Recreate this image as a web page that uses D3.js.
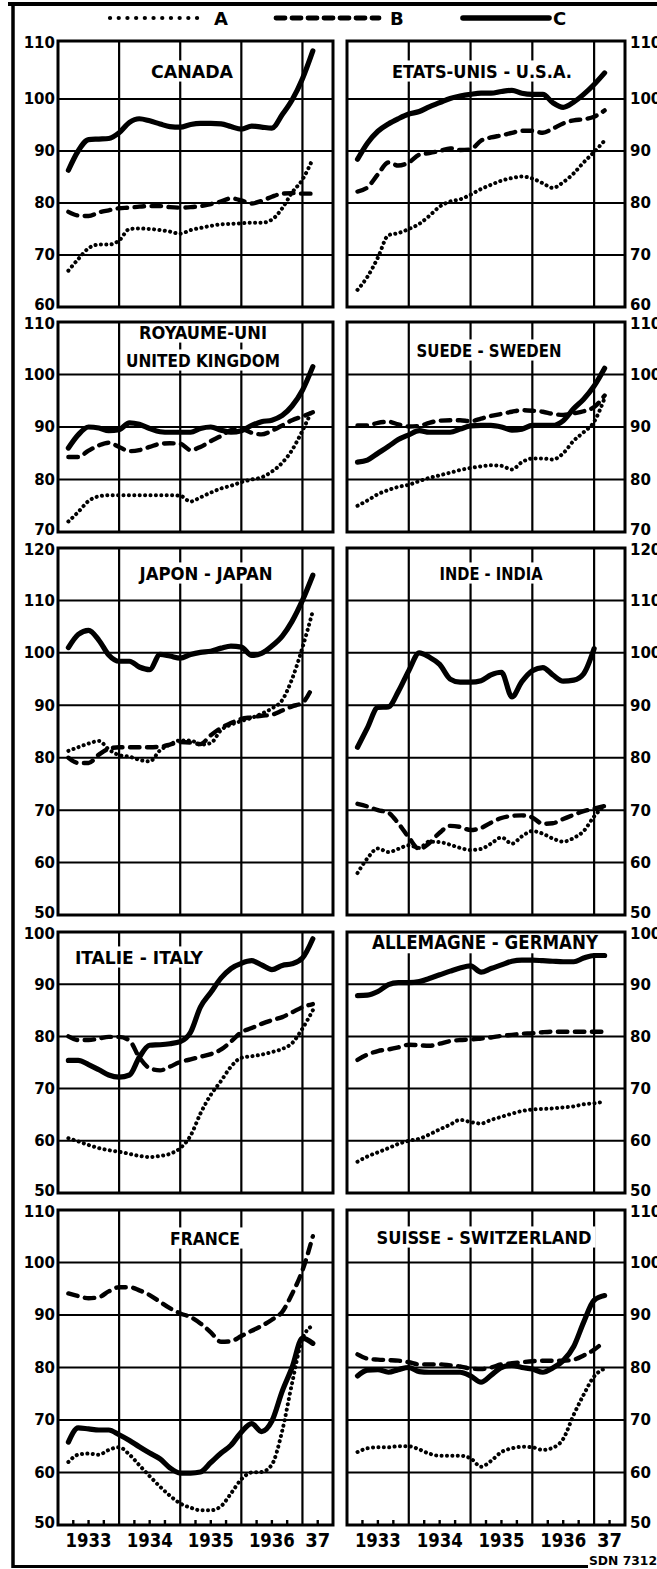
<!DOCTYPE html>
<html>
<head>
<meta charset="utf-8">
<script src="https://cdn.jsdelivr.net/npm/d3@7/dist/d3.min.js"></script>
<style>
html,body{margin:0;padding:0;background:#fff;}
svg{display:block;}
</style>
</head>
<body>
<script>
// ================= DATA =================
const periods = [1933.17,1933.33,1933.5,1933.67,1933.83,1934.0,1934.17,1934.33,1934.5,1934.67,1934.83,1935.0,1935.17,1935.33,1935.5,1935.67,1935.83,1936.0,1936.17,1936.33,1936.5,1936.67,1936.83,1937.0,1937.17];
const legendKeys = ["A","B","C"];
const xTickLabels = ["1933","1934","1935","1936","37"];
const xLabelAt = [1933.5,1934.5,1935.5,1936.5,1937.25];
const yearLines = [1934,1935,1936,1937];
const quarterTicks = [1933.25,1933.5,1933.75,1934.25,1934.5,1934.75,1935.25,1935.5,1935.75,1936.25,1936.5,1936.75,1937.25];
const ticksRow1 = [60,70,80,90,100,110];
const ticksRow2 = [70,80,90,100,110];
const ticksRow3 = [50,60,70,80,90,100,110,120];
const ticksRow4 = [50,60,70,80,90,100];
const ticksRow5 = [50,60,70,80,90,100,110];
const titles = [["CANADA"],["ETATS-UNIS - U.S.A."],["ROYAUME-UNI","UNITED KINGDOM"],["SUEDE - SWEDEN"],["JAPON - JAPAN"],["INDE - INDIA"],["ITALIE - ITALY"],["ALLEMAGNE - GERMANY"],["FRANCE"],["SUISSE - SWITZERLAND"]];
const sourceNote = "SDN 7312";

const canadaA = [67.0,69.2,71.3,72.0,72.0,72.8,75.0,75.1,75.0,74.8,74.5,74.1,74.8,75.2,75.6,75.9,76.0,76.1,76.2,76.2,76.8,79.0,82.0,84.5,88.5];
const canadaB = [78.3,77.6,77.5,78.2,78.6,79.0,79.1,79.3,79.4,79.4,79.2,79.1,79.2,79.4,79.8,80.3,80.9,80.5,79.9,80.4,81.2,81.8,81.9,81.8,81.8];
const canadaC = [86.3,90.0,92.2,92.3,92.4,93.5,95.5,96.2,95.8,95.2,94.7,94.6,95.1,95.3,95.3,95.2,94.7,94.2,94.8,94.6,94.4,97.0,99.8,103.5,108.3];

const usaA = [63.3,65.8,69.5,73.8,74.2,75.0,76.0,77.5,79.3,80.3,80.7,81.6,82.7,83.5,84.3,84.8,85.1,84.7,83.8,82.9,84.0,85.7,87.8,89.8,92.0];
const usaB = [82.2,83.0,85.5,87.8,87.2,87.8,89.3,89.6,90.0,90.5,90.2,90.3,92.0,92.6,93.0,93.5,93.9,93.9,93.5,94.3,95.3,95.9,96.1,96.6,97.8];
const usaC = [88.4,91.5,93.8,95.2,96.2,97.1,97.6,98.5,99.3,100.1,100.5,100.8,101.0,101.0,101.3,101.5,101.0,100.8,100.8,99.3,98.4,99.4,100.8,102.5,104.5];

const ukA = [72.0,73.8,75.9,76.8,77.0,77.0,77.0,77.0,77.0,77.0,77.0,76.9,75.8,76.6,77.5,78.3,78.8,79.5,80.0,80.4,81.5,83.2,85.6,89.3,93.5];
const ukB = [84.3,84.3,85.5,86.5,87.0,86.2,85.4,85.6,86.2,86.8,86.9,86.8,85.6,86.2,87.3,88.3,89.4,89.6,88.9,88.6,89.3,90.3,91.3,92.0,92.8];
const ukC = [86.0,88.5,90.0,89.8,89.3,89.5,90.8,90.5,89.7,89.1,89.0,89.0,89.0,89.7,90.0,89.4,89.0,89.3,90.3,91.0,91.3,92.2,94.0,97.0,101.5];

const swedenA = [75.0,76.0,77.2,78.0,78.6,79.0,79.7,80.3,80.8,81.3,81.8,82.2,82.5,82.7,82.6,81.9,83.3,84.0,84.0,83.8,85.0,87.4,89.0,91.0,95.5];
const swedenB = [90.3,90.3,90.8,91.0,90.5,90.1,90.2,90.8,91.2,91.3,91.3,91.1,91.6,92.1,92.5,92.9,93.2,93.1,92.9,92.5,92.3,92.6,93.0,93.8,96.0];
const swedenC = [83.3,83.7,85.0,86.3,87.6,88.5,89.3,89.0,89.0,89.0,89.6,90.2,90.3,90.3,90.0,89.4,89.6,90.3,90.3,90.3,91.2,93.5,95.3,97.8,101.2];

const japanA = [81.3,82.0,82.7,83.2,81.6,80.5,80.2,79.6,79.3,81.4,82.5,83.3,83.3,82.5,82.8,85.3,86.3,87.0,87.6,88.4,89.4,91.0,95.0,101.0,108.0];
const japanB = [80.0,79.0,79.0,80.6,81.7,82.0,82.0,82.0,82.0,82.1,82.5,83.0,82.9,82.6,84.3,85.7,86.6,87.4,87.7,88.0,88.2,89.0,89.8,90.5,93.6];
const japanC = [101.0,103.5,104.3,102.4,99.6,98.4,98.4,97.3,96.8,99.7,99.4,99.0,99.7,100.1,100.3,100.9,101.3,101.1,99.5,99.9,101.3,103.2,106.0,110.0,114.8];

const indiaA = [58.0,60.8,62.7,62.0,62.6,63.3,62.8,64.0,63.9,63.4,62.8,62.4,62.6,63.6,64.8,63.6,65.0,66.0,65.5,64.6,64.0,64.7,66.0,68.8,70.9];
const indiaB = [71.2,70.7,70.0,69.5,67.5,64.8,62.6,63.7,65.7,67.0,66.8,66.2,66.6,67.6,68.5,68.9,69.0,68.6,67.4,67.5,68.3,69.1,69.8,70.3,70.8];
const indiaC = [82.0,85.7,89.6,89.7,92.6,96.6,100.0,99.2,97.8,95.0,94.4,94.4,94.7,95.8,96.3,91.6,94.5,96.6,97.2,95.8,94.6,94.8,96.0,100.8,null];

const italyA = [60.5,59.9,59.2,58.6,58.2,57.9,57.5,57.1,56.9,57.1,57.5,58.6,61.0,65.2,68.8,71.5,74.2,75.9,76.2,76.5,77.0,77.6,78.7,81.5,85.0];
const italyB = [80.0,79.3,79.3,79.6,79.9,79.9,79.2,76.0,73.9,73.5,74.2,75.1,75.6,76.1,76.6,77.5,79.0,80.8,81.6,82.4,83.1,83.7,84.6,85.6,86.2];
const italyC = [75.4,75.4,74.6,73.6,72.6,72.2,72.6,76.0,78.3,78.4,78.6,79.0,80.8,85.6,88.4,91.2,93.0,94.0,94.5,93.7,92.8,93.6,93.9,95.0,98.7];

const germanyA = [56.0,57.0,57.8,58.6,59.4,60.0,60.4,61.2,62.2,63.1,64.0,63.6,63.3,64.0,64.6,65.2,65.7,66.0,66.1,66.2,66.4,66.6,67.0,67.2,67.5];
const germanyB = [75.5,76.5,77.2,77.5,77.9,78.4,78.3,78.2,78.6,79.1,79.3,79.4,79.6,79.8,80.1,80.3,80.5,80.6,80.8,80.9,80.9,80.9,80.9,80.9,80.9];
const germanyC = [87.8,87.9,88.6,89.9,90.3,90.3,90.5,91.1,91.8,92.5,93.1,93.5,92.3,93.0,93.7,94.4,94.6,94.6,94.5,94.4,94.3,94.3,95.0,95.5,95.5];

const franceA = [62.0,63.4,63.6,63.4,64.3,64.8,63.4,61.4,59.3,57.3,55.6,54.1,53.3,52.8,52.8,53.6,56.0,58.7,60.0,60.1,61.5,68.0,77.0,85.5,88.0];
const franceB = [94.1,93.6,93.2,93.4,94.5,95.3,95.3,94.7,93.8,92.5,91.3,90.3,89.6,88.4,86.7,84.9,85.0,86.0,87.0,87.9,89.1,90.6,94.0,98.5,105.0];
const franceC = [65.8,68.5,68.3,68.1,68.1,67.2,66.1,64.9,63.7,62.6,60.9,59.9,59.9,60.1,61.9,63.7,65.2,67.7,69.3,67.8,69.8,75.5,80.0,85.6,84.6];

const swissA = [63.9,64.6,64.8,64.8,65.0,65.0,64.4,63.6,63.2,63.2,63.2,62.7,61.1,62.2,63.9,64.6,64.9,64.8,64.3,64.7,66.4,71.0,74.8,78.3,79.8];
const swissB = [82.5,81.7,81.5,81.4,81.3,81.0,80.6,80.6,80.6,80.4,80.2,79.8,79.7,80.0,80.6,80.8,81.0,81.2,81.3,81.3,81.3,81.5,82.3,83.4,85.0];
const swissC = [78.4,79.5,79.6,79.1,79.6,80.0,79.2,79.1,79.1,79.1,79.1,78.4,77.2,78.5,80.0,80.4,80.0,79.7,79.1,79.9,81.3,84.0,88.6,92.8,93.7];

// ================= LAYOUT =================
const W = 657, H = 1569, ink = "#000";
const rowTicks = [ticksRow1, ticksRow2, ticksRow3, ticksRow4, ticksRow5];
// pixel stops for each row's value scale (value -> y), as printed
const rowStops = [
  {d:[60,100,110], r:[307,99,41]},
  {d:[70,110], r:[532,322]},
  {d:[50,120], r:[915,548]},
  {d:[50,100], r:[1193,932]},
  {d:[50,110], r:[1525,1210]}
];
const colBox = [[58,333],[347,625]];
const seriesSets = [
  [canadaA,canadaB,canadaC],[usaA,usaB,usaC],
  [ukA,ukB,ukC],[swedenA,swedenB,swedenC],
  [japanA,japanB,japanC],[indiaA,indiaB,indiaC],
  [italyA,italyB,italyC],[germanyA,germanyB,germanyC],
  [franceA,franceB,franceC],[swissA,swissB,swissC]
];
const titleLayout = [
  {cx:192, cy:[71], w:[82], fs:18},
  {cx:482, cy:[71], w:[180], fs:18},
  {cx:203, cy:[332,360], w:[128,154], fs:18},
  {cx:489, cy:[350], w:[145], fs:18},
  {cx:206, cy:[573], w:[133], fs:18},
  {cx:491, cy:[573], w:[103], fs:18},
  {cx:139, cy:[957], w:[128], fs:18},
  {cx:485, cy:[942], w:[226], fs:20},
  {cx:205, cy:[1238], w:[70], fs:18},
  {cx:484, cy:[1237], w:[215], fs:18}
];
const styles = {
  A: {w:4.0, dash:"0.1 5.3", cap:"round"},
  B: {w:4.4, dash:"9.5 7.5", cap:"round"},
  C: {w:5.2, dash:null, cap:"round"}
};

const svg = d3.select("body").append("svg").attr("width",W).attr("height",H);
svg.append("rect").attr("width",W).attr("height",H).attr("fill","#fff");

const numFont = "'DejaVu Sans', 'Liberation Sans', sans-serif";
const titleFont = "'DejaVu Sans Condensed', 'Liberation Sans Narrow', 'DejaVu Sans', sans-serif";

// outer frame
svg.append("line").attr("x1",8).attr("x2",W).attr("y1",4).attr("y2",4).attr("stroke",ink).attr("stroke-width",4);
svg.append("line").attr("x1",13).attr("x2",13).attr("y1",2).attr("y2",1568).attr("stroke",ink).attr("stroke-width",3.5);
svg.append("line").attr("x1",12).attr("x2",588).attr("y1",1566.5).attr("y2",1566.5).attr("stroke",ink).attr("stroke-width",3);
svg.append("text").attr("x",589).attr("y",1565).attr("font-family",numFont).attr("font-weight","bold")
  .attr("font-size",12).attr("textLength",68).attr("lengthAdjust","spacingAndGlyphs").attr("fill",ink).text(sourceNote);

// legend
const legendLayout = [[110,205,214],[276,379,390],[463,549,553]];
const legendY = 18;
legendKeys.forEach((k,i)=>{
  const [a,b,lx] = legendLayout[i];
  const st = styles[k];
  const ln = svg.append("line").attr("x1",a).attr("x2",b).attr("y1",legendY).attr("y2",legendY)
    .attr("stroke",ink).attr("stroke-width", k==="A"?4.2:st.w+0.4).attr("stroke-linecap",st.cap);
  if (k==="A") ln.attr("stroke-dasharray","0.1 8.6");
  else if (k==="B") ln.attr("stroke-dasharray","9 7");
  svg.append("text").attr("x",lx).attr("y",legendY+6.8).attr("font-family",numFont).attr("font-weight","bold")
    .attr("font-size",18).attr("fill",ink).text(k);
});

// panels
seriesSets.forEach((set, i) => {
  const r = Math.floor(i/2), c = i % 2;
  const stops = rowStops[r];
  const top = d3.min(stops.r), bottom = d3.max(stops.r);
  const [x0, x1] = colBox[c];
  const ticks = rowTicks[r];
  const xs = d3.scaleLinear().domain([1933, 1937.5]).range([x0, x1]);
  const ys = d3.scaleLinear().domain(stops.d).range(stops.r);
  const g = svg.append("g");

  // grid
  g.selectAll(".h").data(ticks).join("line")
    .attr("x1",x0).attr("x2",x1).attr("y1",d=>ys(d)).attr("y2",d=>ys(d))
    .attr("stroke",ink).attr("stroke-width",2);
  g.selectAll(".v").data(yearLines).join("line")
    .attr("x1",d=>xs(d)).attr("x2",d=>xs(d)).attr("y1",top).attr("y2",bottom)
    .attr("stroke",ink).attr("stroke-width",2.2);

  // title with white backing
  const tl = titleLayout[i];
  titles[i].forEach((t, j) => {
    const capH = tl.fs * 0.729;
    const txt = g.append("text").attr("x", tl.cx).attr("y", tl.cy[j] + capH/2)
      .attr("text-anchor","middle").attr("font-family",titleFont).attr("font-weight","bold")
      .attr("font-size", tl.fs).attr("textLength", tl.w[j]).attr("lengthAdjust","spacingAndGlyphs")
      .attr("fill", ink).text(t);
    g.insert("rect", function(){ return txt.node(); })
      .attr("x", tl.cx - tl.w[j]/2 - 4).attr("y", tl.cy[j] - capH/2 - 4)
      .attr("width", tl.w[j] + 8).attr("height", capH + 8).attr("fill","#fff");
  });

  // bottom-row quarter ticks
  if (r === 4) {
    g.selectAll(".qt").data(quarterTicks).join("line")
      .attr("x1",d=>xs(d)).attr("x2",d=>xs(d)).attr("y1",bottom).attr("y2",bottom-5)
      .attr("stroke",ink).attr("stroke-width",2.4);
  }

  // series
  const line = d3.line().defined(d => d[1] != null)
    .x(d => xs(d[0])).y(d => ys(d[1])).curve(d3.curveMonotoneX);
  legendKeys.forEach((k, si) => {
    const st = styles[k];
    const pts = periods.map((p, pi) => [p, set[si][pi]]);
    const path = g.append("path").attr("d", line(pts)).attr("fill","none")
      .attr("stroke", ink).attr("stroke-width", st.w)
      .attr("stroke-linecap", st.cap).attr("stroke-linejoin","round");
    if (st.dash) path.attr("stroke-dasharray", st.dash);
  });

  // frame
  g.append("rect").attr("x",x0).attr("y",top).attr("width",x1-x0).attr("height",bottom-top)
    .attr("fill","none").attr("stroke",ink).attr("stroke-width",3);

  // y labels (edge labels nudged inward so neighbouring rows don't collide)
  const lo = d3.min(ticks), hi = d3.max(ticks);
  g.selectAll(".yl").data(ticks).join("text")
    .attr("x", c === 0 ? 55 : 630)
    .attr("y", d => ys(d) + 5.4 + (d === lo ? -2.5 : d === hi ? 1.5 : 0))
    .attr("text-anchor", c === 0 ? "end" : "start")
    .attr("font-family", numFont).attr("font-weight","bold").attr("font-size",15)
    .attr("fill", ink).text(d => d);

  // x labels in bottom row
  if (r === 4) {
    g.selectAll(".xl").data(xTickLabels).join("text")
      .attr("x", (d, k) => xs(xLabelAt[k])).attr("y", 1547)
      .attr("text-anchor","middle").attr("font-family",numFont).attr("font-weight","bold")
      .attr("font-size",19).attr("textLength", d => d.length === 4 ? 46 : 25)
      .attr("lengthAdjust","spacingAndGlyphs").attr("fill",ink).text(d => d);
  }
});
</script>
</body>
</html>
